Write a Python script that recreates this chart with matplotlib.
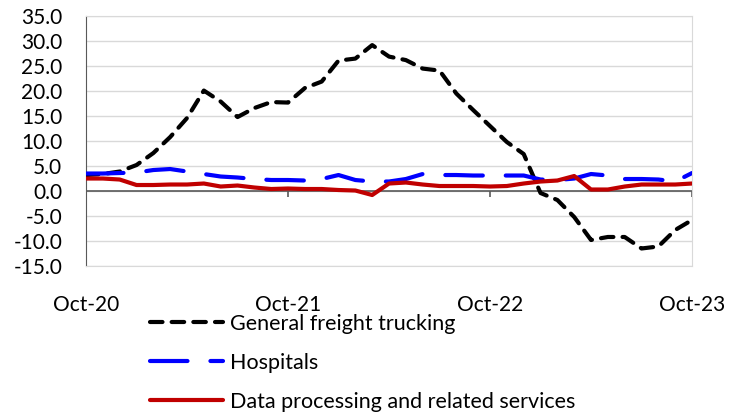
import matplotlib.pyplot as plt
import numpy as np

plt.rcParams['font.family'] = ['Lato', 'DejaVu Sans']

# monthly values, Oct-20 .. Oct-23 (37 months)
trucking = [3.2, 3.4, 3.9, 5.2, 7.6, 10.8, 14.6, 20.1, 17.9, 14.8, 16.6, 17.8,
            17.7, 20.6, 21.9, 26.1, 26.5, 29.2, 26.9, 26.2, 24.5, 24.1, 19.5, 16.2,
            13.0, 9.8, 7.4, -0.4, -1.8, -5.2, -9.8, -9.2, -9.2, -11.5, -11.1, -7.8, -5.8]
hospitals = [3.5, 3.5, 3.6, 3.7, 4.2, 4.4, 3.9, 3.4, 2.9, 2.7, 2.4, 2.2,
             2.2, 2.1, 2.4, 3.2, 2.2, 1.9, 1.9, 2.4, 3.4, 3.2, 3.2, 3.1,
             3.1, 3.1, 3.1, 2.3, 2.2, 2.5, 3.4, 3.1, 2.4, 2.4, 2.3, 1.9, 3.6]
data_proc = [2.5, 2.5, 2.3, 1.2, 1.2, 1.3, 1.3, 1.5, 0.9, 1.1, 0.7, 0.4,
             0.5, 0.4, 0.4, 0.2, 0.1, -0.8, 1.5, 1.7, 1.3, 1.0, 1.0, 1.0,
             0.9, 1.0, 1.5, 1.9, 2.1, 3.0, 0.3, 0.3, 0.9, 1.3, 1.3, 1.3, 1.5]
tick_labels = ['Oct-20', 'Oct-21', 'Oct-22', 'Oct-23']
tick_months = [0, 12, 24, 36]

months = np.arange(len(trucking))

fig = plt.figure(figsize=(7.37, 4.13), dpi=100)
ax = fig.add_axes([0.1167, 0.356, 0.8223, 0.605])

ax.plot(months, trucking, color='black', lw=3, ls=(0, (3, 2.2)),
        dash_capstyle='round', label='General freight trucking', zorder=3)
ax.plot(months, hospitals, color='#0000FF', lw=3, ls=(0, (9, 5.5)),
        dash_capstyle='round', label='Hospitals', zorder=4)
ax.plot(months, data_proc, color='#C00000', lw=3, solid_capstyle='round',
        label='Data processing and related services', zorder=5)

ax.set_xlim(0, 36)
ax.set_ylim(-15, 35)
ax.set_yticks(np.arange(-15, 36, 5))
ax.set_yticklabels([f'{v:.1f}' for v in np.arange(-15, 36, 5)])
ax.set_xticks(tick_months)
ax.set_xticklabels(tick_labels)
ax.tick_params(axis='both', length=0, labelsize=15)
ax.yaxis.set_tick_params(pad=17)
ax.xaxis.set_tick_params(pad=21)

ax.grid(axis='y', color='#d9d9d9', lw=1)
ax.set_axisbelow(True)
for s in ['top', 'right', 'bottom']:
    ax.spines[s].set_color('#d9d9d9')
ax.spines['left'].set_color('#595959')

# category axis crossing at zero, with year tick marks
ax.axhline(0, color='#595959', lw=1.2, zorder=2)
ax.vlines(tick_months[1:], -1.1, 0, color='#595959', lw=1.2, zorder=2)

fig.legend(loc='upper left', bbox_to_anchor=(0.2035, 0.240), frameon=False,
           fontsize=15.5, handlelength=3.4, handletextpad=0.32,
           labelspacing=0.88, borderpad=0, borderaxespad=0)

fig.savefig('out.png', dpi=100)
